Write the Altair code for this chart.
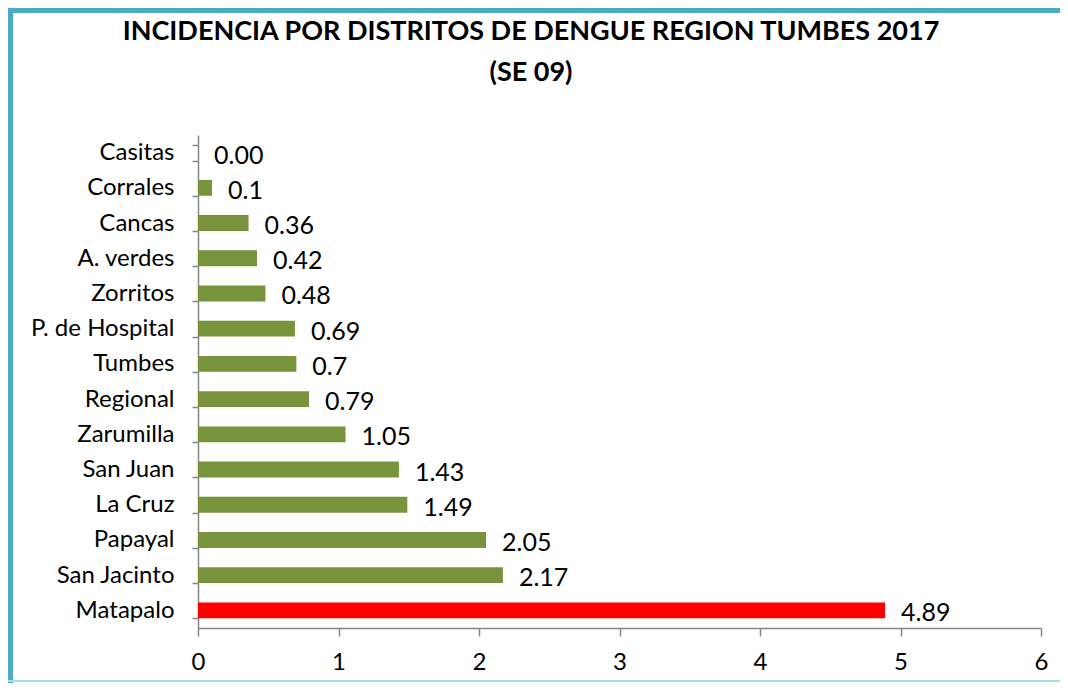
import altair as alt
import pandas as pd

districts = ["Casitas", "Corrales", "Cancas", "A. verdes", "Zorritos", "P. de Hospital",
             "Tumbes", "Regional", "Zarumilla", "San Juan", "La Cruz", "Papayal",
             "San Jacinto", "Matapalo"]
values = [0.00, 0.1, 0.36, 0.42, 0.48, 0.69, 0.7, 0.79, 1.05, 1.43, 1.49, 2.05, 2.17, 4.89]
labels = ["0.00", "0.1", "0.36", "0.42", "0.48", "0.69", "0.7", "0.79", "1.05", "1.43",
          "1.49", "2.05", "2.17", "4.89"]
highlight = "Matapalo"
title_line1 = "INCIDENCIA POR DISTRITOS DE DENGUE REGION TUMBES 2017"
title_line2 = "(SE 09)"

df = pd.DataFrame({"district": districts, "value": values, "label": labels})
df["hl"] = df["district"].apply(lambda d: "hl" if d == highlight else "normal")

FONT = "Lato"
W, H = 843, 493

y_enc = alt.Y("district:N", sort=districts, title=None,
              scale=alt.Scale(paddingInner=0.55, paddingOuter=0.275),
              axis=alt.Axis(labelFontSize=24, labelFont=FONT, labelColor="black",
                            domainColor="#868686", tickColor="#868686", tickSize=6,
                            tickBand="extent", labelPadding=18, domainWidth=1.5,
                            tickWidth=1.5))
x_enc = alt.X("value:Q", title=None,
              scale=alt.Scale(domain=[0, 6], nice=False),
              axis=alt.Axis(values=[0, 1, 2, 3, 4, 5, 6], format="d", grid=False,
                            labelFlush=False,
                            labelFontSize=24, labelFont=FONT, labelColor="black",
                            domainColor="#868686", tickColor="#868686", tickSize=8,
                            labelPadding=14, domainWidth=1.5, tickWidth=1.5))

bars = alt.Chart(df).mark_bar().encode(
    y=y_enc, x=x_enc,
    color=alt.Color("hl:N", scale=alt.Scale(domain=["hl", "normal"],
                                            range=["#FF0000", "#77933C"]), legend=None),
)

text = alt.Chart(df).mark_text(align="left", baseline="middle", dx=16, dy=3,
                               fontSize=25, font=FONT, color="black").encode(
    y=alt.Y("district:N", sort=districts), x="value:Q", text="label:N")

one = pd.DataFrame({"a": [0]})
t1 = alt.Chart(one).mark_text(align="center", baseline="middle", fontSize=27,
                              fontWeight="bold", font=FONT, color="black",
                              text=title_line1).encode(
    x=alt.value(333), y=alt.value(-103))
t2 = alt.Chart(one).mark_text(align="center", baseline="middle", fontSize=27,
                              fontWeight="bold", font=FONT, color="black",
                              text=title_line2).encode(
    x=alt.value(333), y=alt.value(-62))

border_color = "#4BACC6"
left_border = alt.Chart(one).mark_rule(color=border_color, strokeWidth=5).encode(
    x=alt.value(-187.5), y=alt.value(-127), y2=alt.value(550))
top_border = alt.Chart(one).mark_rule(color=border_color, strokeWidth=5).encode(
    x=alt.value(-190), x2=alt.value(880), y=alt.value(-124.5))
bottom_border = alt.Chart(one).mark_rule(color="#A9DCE8", strokeWidth=2).encode(
    x=alt.value(-190), x2=alt.value(880), y=alt.value(546))

chart = alt.layer(bars, text, t1, t2, left_border, top_border, bottom_border).properties(
    width=W, height=H, padding={"left": 190, "top": 127, "right": 19, "bottom": 55},
    autosize=alt.AutoSizeParams(type="none"),
).configure_view(stroke=None)

chart.save("out.html", embed_options={"renderer": "svg", "actions": False})
